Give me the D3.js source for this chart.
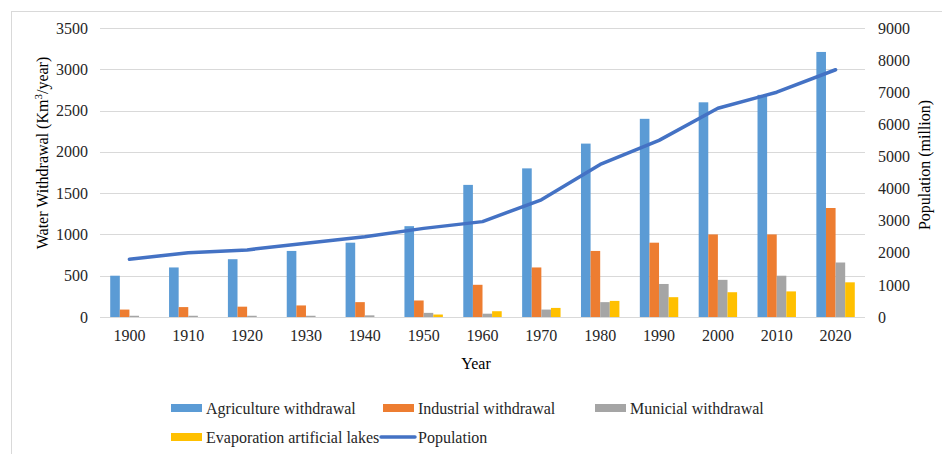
<!DOCTYPE html>
<html><head><meta charset="utf-8">
<script src="https://cdn.jsdelivr.net/npm/d3@7"></script>
<style>body{margin:0;background:#fff;}svg{display:block;}svg text{font-family:"Liberation Serif","Times New Roman",serif !important;}</style>
</head><body>
<script>
const years = [1900,1910,1920,1930,1940,1950,1960,1970,1980,1990,2000,2010,2020];
const agriculture = [500,600,700,800,900,1100,1600,1800,2100,2400,2600,2690,3210];
const industrial = [90,120,125,140,180,200,390,600,800,900,1000,1000,1320];
const municipal = [15,15,15,15,20,50,40,90,180,400,450,500,660];
const evaporation = [0,0,0,0,0,30,70,110,195,240,300,310,420];
const population = [1800,2000,2090,2300,2500,2760,2970,3650,4750,5500,6500,7000,7700];
const leftTicks = [0,500,1000,1500,2000,2500,3000,3500];
const rightTicks = [0,1000,2000,3000,4000,5000,6000,7000,8000,9000];
const seriesNames = ["Agriculture withdrawal","Industrial withdrawal","Municial withdrawal","Evaporation artificial lakes"];
const seriesData = [agriculture, industrial, municipal, evaporation];
const colors = ["#5b9bd5","#ed7d31","#a5a5a5","#ffc000"];
const lineColor = "#4472c4";

(function(){
const W = 942, H = 454;
const svg = d3.select("body").append("svg").attr("width", W).attr("height", H);
svg.append("rect").attr("x",11.5).attr("y",11.5).attr("width",W).attr("height",H).attr("fill","none").attr("stroke","#d9d9d9");

const pL = 100, pR = 865, pT = 28, pB = 317;
const x = d3.scaleBand().domain(years).range([pL,pR]).paddingInner(0.347).paddingOuter(0.1735);
const xs = d3.scaleBand().domain(d3.range(4)).range([0,x.bandwidth()]);
const y = d3.scaleLinear().domain([0,3500]).range([pB,pT]);
const y2 = d3.scaleLinear().domain([0,9000]).range([pB,pT]);
const fmt = d3.format("d");

svg.append("g").selectAll("line").data(leftTicks).join("line")
  .attr("x1",pL).attr("x2",pR).attr("y1",d=>Math.round(y(d))+0.5).attr("y2",d=>Math.round(y(d))+0.5)
  .attr("stroke","#d9d9d9").attr("stroke-width",1);

const ly = svg.append("g").attr("transform",`translate(${pL},0)`)
  .call(d3.axisLeft(y).tickValues(leftTicks).tickFormat(fmt).tickSize(0).tickPadding(12));
ly.select(".domain").remove();
ly.selectAll("text").attr("font-size",16).attr("fill","#262626");

const ry = svg.append("g").attr("transform",`translate(${pR},0)`)
  .call(d3.axisRight(y2).tickValues(rightTicks).tickFormat(fmt).tickSize(0).tickPadding(13));
ry.select(".domain").remove();
ry.selectAll("text").attr("font-size",16).attr("fill","#262626");

const bx = svg.append("g").attr("transform",`translate(0,${pB})`)
  .call(d3.axisBottom(x).tickFormat(fmt).tickSize(0).tickPadding(13));
bx.select(".domain").remove();
bx.selectAll("text").attr("font-size",16).attr("fill","#262626");

seriesData.forEach((arr,i)=>{
  svg.append("g").selectAll("rect").data(arr).join("rect")
    .attr("x",(d,j)=>x(years[j])+xs(i))
    .attr("width",xs.bandwidth())
    .attr("y",d=>y(d))
    .attr("height",d=>pB-y(d))
    .attr("fill",colors[i]);
});

const line = d3.line().x((d,j)=>x(years[j])+x.bandwidth()/2).y(d=>y2(d));
svg.append("path").datum(population).attr("d",line).attr("fill","none")
  .attr("stroke",lineColor).attr("stroke-width",3.5).attr("stroke-linecap","round").attr("stroke-linejoin","round");

svg.append("text").attr("x",476).attr("y",369).attr("text-anchor","middle")
  .attr("font-size",16).attr("fill","#000").text("Year");
svg.append("text").attr("transform","translate(48,153) rotate(-90)").attr("text-anchor","middle")
  .attr("font-size",16).attr("fill","#000")
  .html('Water Withdrawal (Km<tspan baseline-shift="super" font-size="11">3</tspan>/year)');
svg.append("text").attr("transform","translate(930,165) rotate(-90)").attr("text-anchor","middle")
  .attr("font-size",16).attr("fill","#000").text("Population (million)");

const legendItems = [
  {name:seriesNames[0], type:"rect", color:colors[0], x:171, y:408},
  {name:seriesNames[1], type:"rect", color:colors[1], x:383, y:408},
  {name:seriesNames[2], type:"rect", color:colors[2], x:595, y:408},
  {name:seriesNames[3], type:"rect", color:colors[3], x:171, y:437},
  {name:"Population", type:"line", color:lineColor, x:381, y:437}
];
const lg = svg.append("g");
legendItems.forEach(it=>{
  if(it.type==="rect"){
    lg.append("rect").attr("x",it.x).attr("y",it.y-4).attr("width",31).attr("height",8).attr("fill",it.color);
  } else {
    lg.append("line").attr("x1",it.x).attr("x2",it.x+34).attr("y1",it.y).attr("y2",it.y)
      .attr("stroke",it.color).attr("stroke-width",3.5).attr("stroke-linecap","round");
  }
  lg.append("text").attr("x",it.x+(it.type==="rect"?35:37)).attr("y",it.y).attr("dy","0.35em")
    .attr("font-size",16).attr("fill","#262626").text(it.name);
});
})();
</script>
</body></html>
